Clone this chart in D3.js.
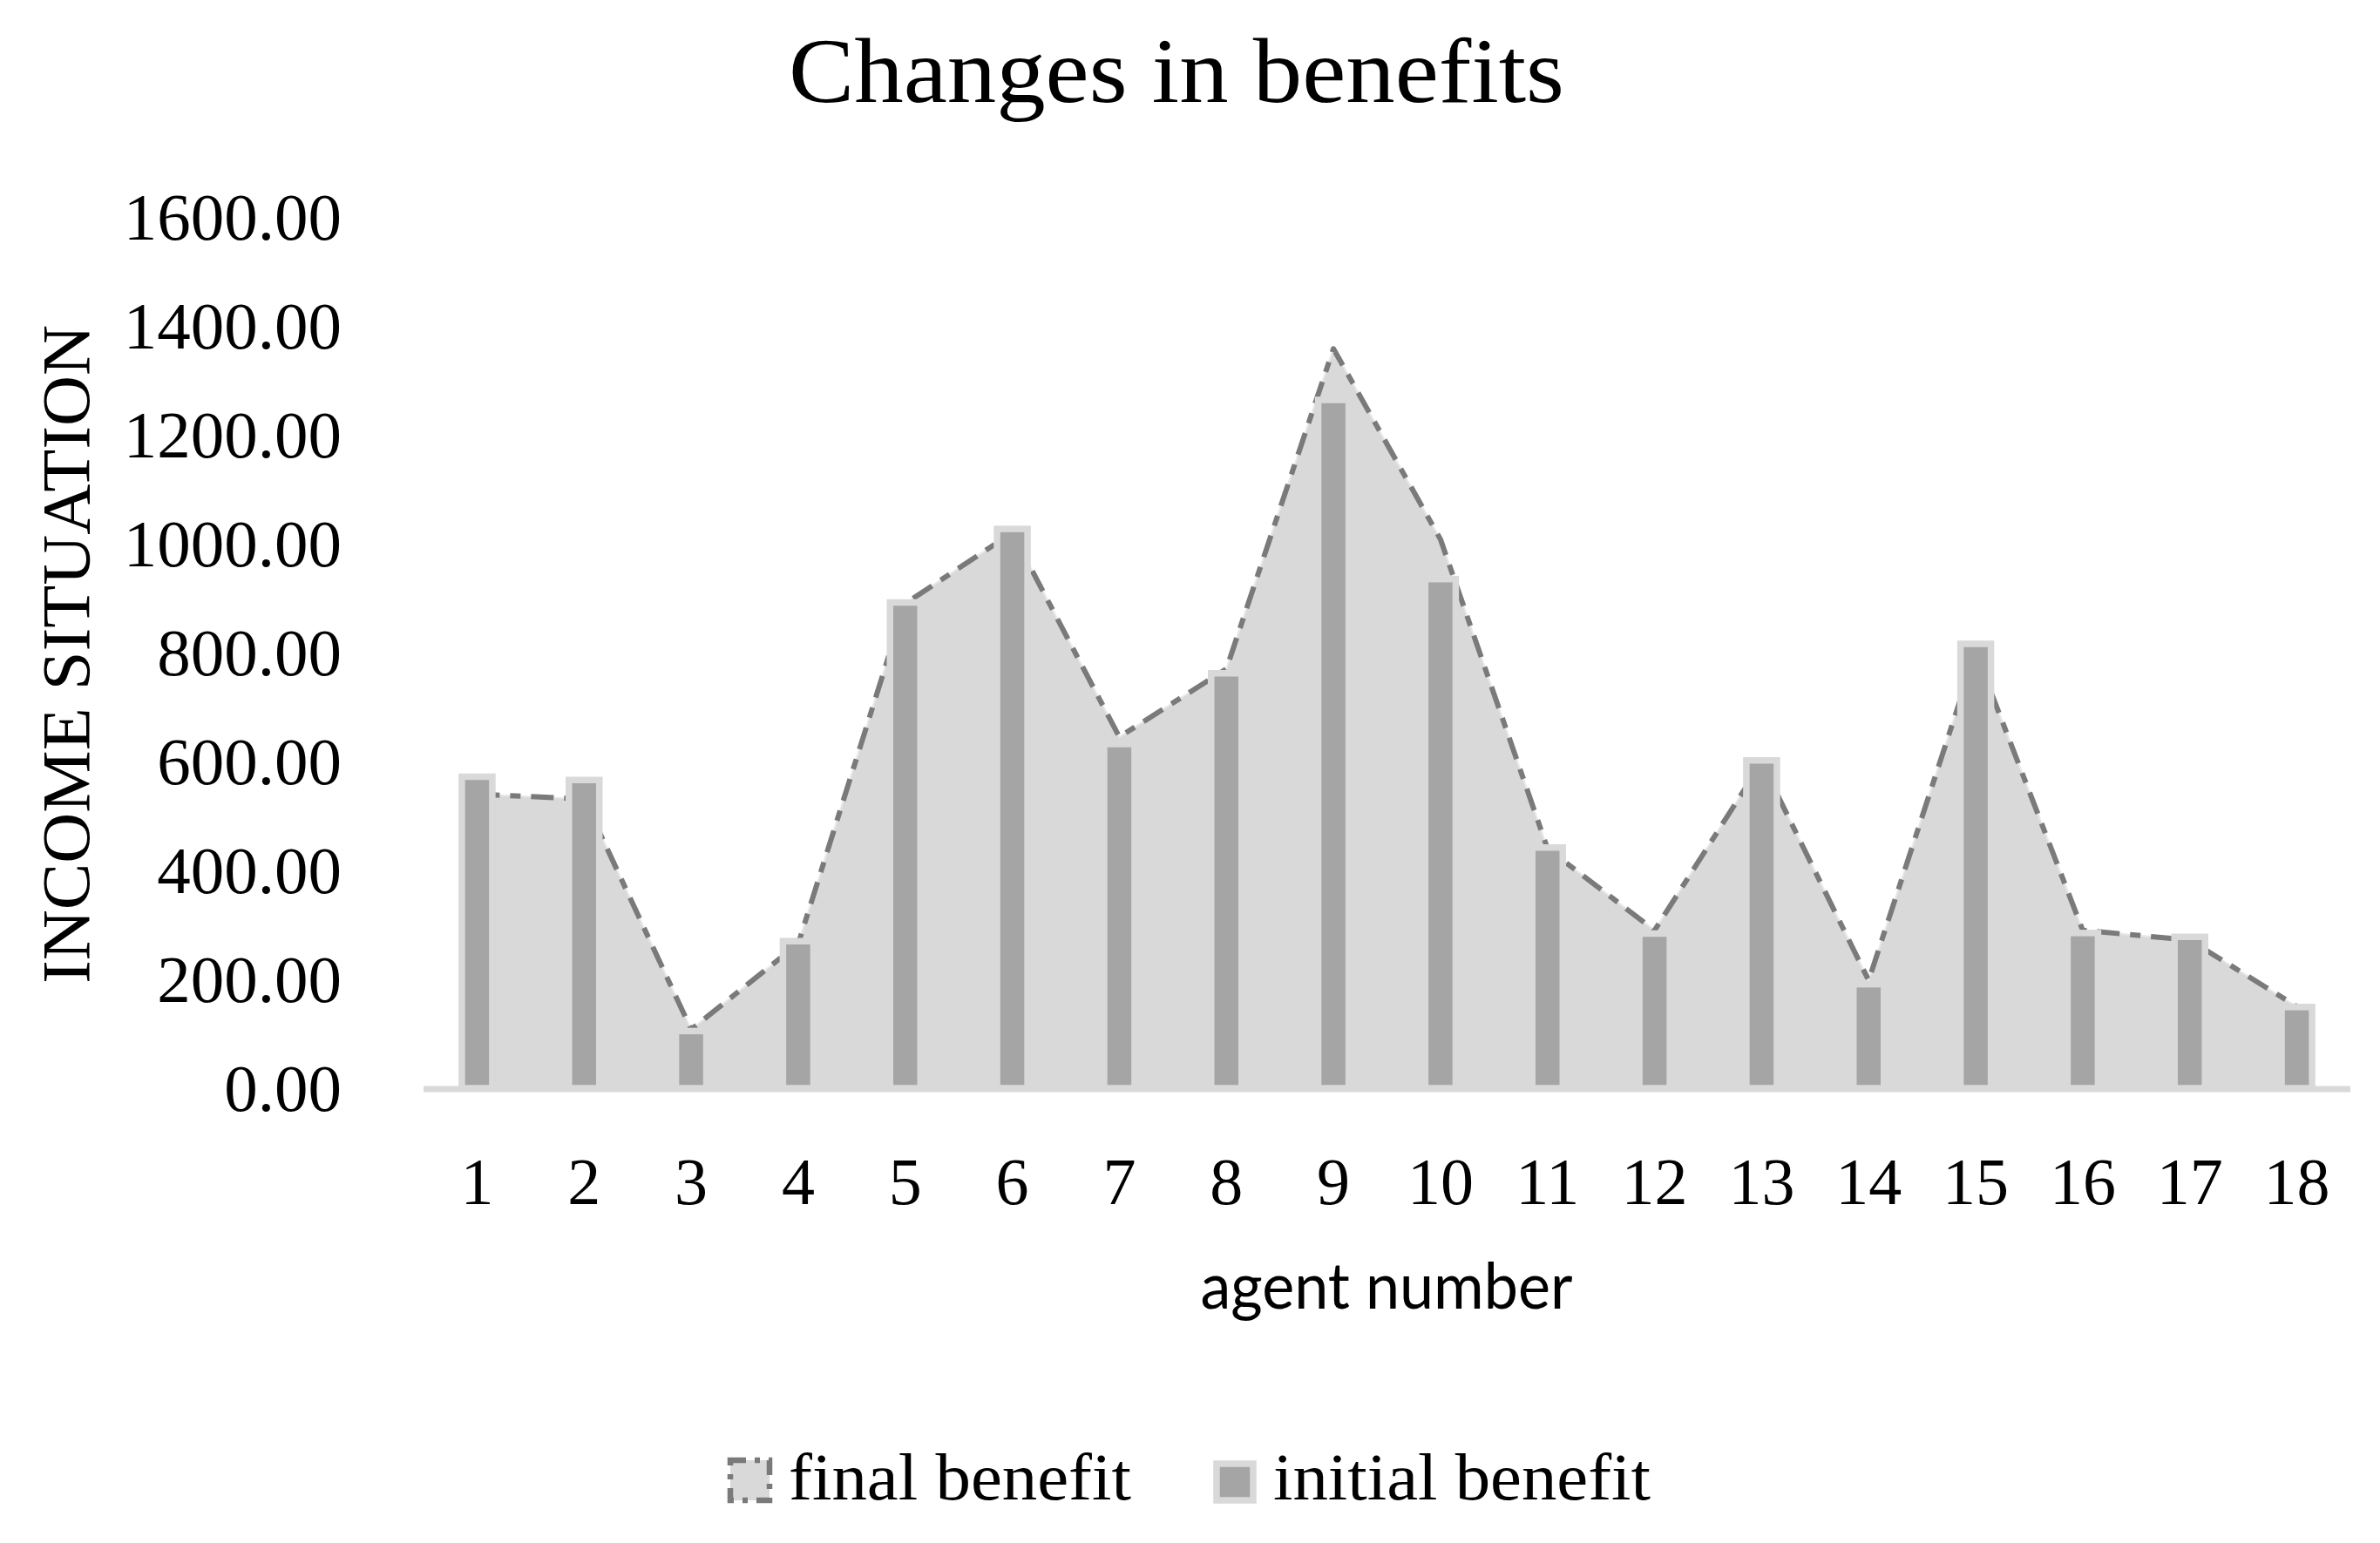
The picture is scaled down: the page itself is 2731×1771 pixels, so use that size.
<!DOCTYPE html>
<html>
<head>
<meta charset="utf-8">
<script src="https://cdn.jsdelivr.net/npm/d3@7"></script>
<style>
  html, body { margin: 0; padding: 0; background: #ffffff; }
  svg { display: block; }
</style>
</head>
<body>
<script>
// ---- data ----
const categories = ["1","2","3","4","5","6","7","8","9","10","11","12","13","14","15","16","17","18"];
const initialBenefit = [572, 566, 105, 270, 892, 1027, 632, 762, 1264, 935, 442, 284, 602, 191, 816, 285, 278, 149];
const finalBenefit   = [540, 531, 108, 265, 890, 1020, 645, 770, 1358, 1008, 440, 290, 598, 198, 800, 290, 272, 150];
const yTicks = [0, 200, 400, 600, 800, 1000, 1200, 1400, 1600];
const seriesNames = ["final benefit", "initial benefit"];
const titleText = "Changes in benefits";
const xTitle = "agent number";
const yTitle = "INCOME SITUATION";

// ---- layout ----
const W = 2731, H = 1771;
const svg = d3.select("body").append("svg").attr("width", W).attr("height", H);
svg.append("rect").attr("width", W).attr("height", H).attr("fill", "#ffffff");

const x = d3.scaleBand().domain(categories).range([486, 2697]).padding(0);
const y = d3.scaleLinear().domain([0, 1600]).range([1249, 249]);
const cx = c => x(c) + x.bandwidth() / 2;

const serif = "'Liberation Serif', 'Times New Roman', serif";
const DASH = "26,12,12,12";

// title
svg.append("text")
  .attr("x", 1350).attr("y", 117)
  .attr("text-anchor", "middle")
  .attr("font-family", serif).attr("font-size", 106)
  .attr("textLength", 890).attr("lengthAdjust", "spacingAndGlyphs")
  .attr("fill", "#000").text(titleText);

// y tick labels
svg.append("g").selectAll("text").data(yTicks).join("text")
  .attr("x", 392).attr("y", d => y(d) + 26)
  .attr("text-anchor", "end")
  .attr("font-family", serif).attr("font-size", 77)
  .attr("fill", "#000")
  .text(d => d3.format(".2f")(d));

// y title
svg.append("text")
  .attr("transform", "translate(102,751) rotate(-90)")
  .attr("text-anchor", "middle")
  .attr("font-family", serif).attr("font-size", 78)
  .attr("textLength", 756).attr("lengthAdjust", "spacingAndGlyphs")
  .attr("fill", "#000").text(yTitle);

// area (final benefit)
const pts = categories.map((c, i) => ({c, v: finalBenefit[i]}));
const area = d3.area().x(d => cx(d.c)).y0(y(0)).y1(d => y(d.v));
const line = d3.line().x(d => cx(d.c)).y(d => y(d.v));
svg.append("path").attr("d", area(pts)).attr("fill", "#d9d9d9");
svg.append("path").attr("d", line(pts))
  .attr("fill", "none").attr("stroke", "#e8e8e8")
  .attr("stroke-width", 2);
svg.append("path").attr("d", line(pts))
  .attr("fill", "none").attr("stroke", "#7a7a7a")
  .attr("stroke-width", 6).attr("stroke-dasharray", DASH)
  .attr("stroke-linejoin", "round");

// bars (initial benefit)
const bw = 35;
svg.append("g").selectAll("rect").data(categories).join("rect")
  .attr("x", c => cx(c) - bw / 2)
  .attr("y", (c, i) => y(initialBenefit[i]))
  .attr("width", bw)
  .attr("height", (c, i) => y(0) - y(initialBenefit[i]))
  .attr("fill", "#a5a5a5")
  .attr("stroke", "#d9d9d9").attr("stroke-width", 7.5);

// x axis line
svg.append("line")
  .attr("x1", 486).attr("x2", 2697)
  .attr("y1", y(0) + 1).attr("y2", y(0) + 1)
  .attr("stroke", "#d9d9d9").attr("stroke-width", 7);

// x tick labels
svg.append("g").selectAll("text").data(categories).join("text")
  .attr("x", c => cx(c)).attr("y", 1382)
  .attr("text-anchor", "middle")
  .attr("font-family", serif).attr("font-size", 76)
  .attr("fill", "#000").text(c => c);

// x title
svg.append("text")
  .attr("x", 1591).attr("y", 1502)
  .attr("text-anchor", "middle")
  .attr("font-family", "Lato, 'Open Sans', sans-serif").attr("font-size", 73)
  .attr("textLength", 427).attr("lengthAdjust", "spacingAndGlyphs")
  .attr("fill", "#000").text(xTitle);

// legend
const lg = svg.append("g");
lg.append("rect").attr("x", 838).attr("y", 1676).attr("width", 45).attr("height", 46)
  .attr("fill", "#d9d9d9").attr("stroke", "#7a7a7a").attr("stroke-width", 6.5)
  .attr("stroke-dasharray", "18,10,6,10");
lg.append("text").attr("x", 905).attr("y", 1721)
  .attr("font-family", serif).attr("font-size", 76)
  .attr("textLength", 393).attr("lengthAdjust", "spacingAndGlyphs")
  .attr("fill", "#000").text(seriesNames[0]);
lg.append("rect").attr("x", 1396).attr("y", 1680).attr("width", 42).attr("height", 42)
  .attr("fill", "#a5a5a5").attr("stroke", "#d9d9d9").attr("stroke-width", 7.5);
lg.append("text").attr("x", 1461).attr("y", 1721)
  .attr("font-family", serif).attr("font-size", 76)
  .attr("textLength", 433).attr("lengthAdjust", "spacingAndGlyphs")
  .attr("fill", "#000").text(seriesNames[1]);
</script>
</body>
</html>
